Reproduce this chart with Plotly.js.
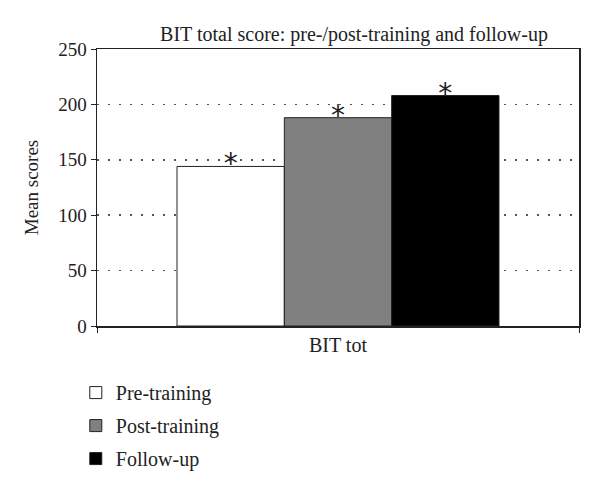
<!DOCTYPE html>
<html>
<head>
<meta charset="utf-8">
<script src="https://cdn.plot.ly/plotly-3.0.1.min.js"></script>
<style>html,body{margin:0;padding:0;background:#fff;}#chart{width:600px;height:491px;}</style>
</head>
<body>
<div id="chart"></div>
<script>
const categories = ['BIT tot'];
const seriesNames = ['Pre-training', 'Post-training', 'Follow-up'];
const preTraining = [144];
const postTraining = [188];
const followUp = [208];
const markers = ['*'];
const yTicks = [0, 50, 100, 150, 200, 250];

const fills = ['#ffffff', '#808080', '#000000'];
const values = [preTraining, postTraining, followUp];
const FONT = '"Liberation Serif", "DejaVu Serif", serif';

const barTraces = values.map((v, i) => ({
  type: 'bar',
  name: seriesNames[i],
  x: categories,
  y: v,
  offsetgroup: String(i),
  alignmentgroup: 'a',
  legendgroup: 'g' + i,
  marker: {color: fills[i], line: {color: '#222', width: 1}},
  hoverinfo: 'none'
}));

const starTraces = values.map((v, i) => ({
  type: 'scatter',
  mode: 'text',
  x: categories,
  y: v,
  text: markers,
  textposition: 'middle center',
  textfont: {family: '"DejaVu Sans", sans-serif', size: 28, color: '#222222'},
  offsetgroup: String(i),
  alignmentgroup: 'a',
  cliponaxis: false,
  showlegend: false,
  hoverinfo: 'none'
}));

const layout = {
  width: 600, height: 491,
  margin: {l: 97, r: 21, t: 49, b: 165},
  paper_bgcolor: '#fff', plot_bgcolor: '#fff',
  font: {family: FONT, size: 19, color: '#222'},
  title: {text: 'BIT total score: pre-/post-training and follow-up', font: {family: FONT, size: 20, color: '#222'}, x: 0.59, xanchor: 'center', y: 0.93, yanchor: 'middle'},
  barmode: 'group',
  scattermode: 'group',
  bargap: 0.332,
  scattergap: 0.332,
  bargroupgap: 0,
  showlegend: true,
  legend: {
    orientation: 'v', x: -0.044, xanchor: 'left', y: -0.17, yanchor: 'top',
    font: {family: FONT, size: 20, color: '#222'},
    tracegroupgap: 4, traceorder: 'grouped', bgcolor: 'rgba(0,0,0,0)'
  },
  xaxis: {
    type: 'category', range: [-0.5, 0.5],
    showline: true, linecolor: '#222', linewidth: 1.5, mirror: true,
    ticks: 'outside', tickson: 'boundaries', ticklen: 5, tickcolor: '#222',
    showgrid: false, tickfont: {family: FONT, size: 20, color: '#222'},
    automargin: false
  },
  yaxis: {
    range: [0, 250], tickvals: yTicks, ticktext: yTicks.map(String),
    showline: true, linecolor: '#222', linewidth: 1.5, mirror: true,
    ticks: 'outside', ticklen: 5, tickcolor: '#222',
    showgrid: true, gridcolor: '#555', griddash: '1.5px,9.5px', gridwidth: 1.5,
    zeroline: false,
    tickfont: {family: FONT, size: 19, color: '#222'},
    title: {text: 'Mean scores', font: {family: FONT, size: 19, color: '#222'}, standoff: 14},
    automargin: false
  }
};

Plotly.newPlot('chart', barTraces.concat(starTraces), layout, {displayModeBar: false, staticPlot: true});
</script>
</body>
</html>
